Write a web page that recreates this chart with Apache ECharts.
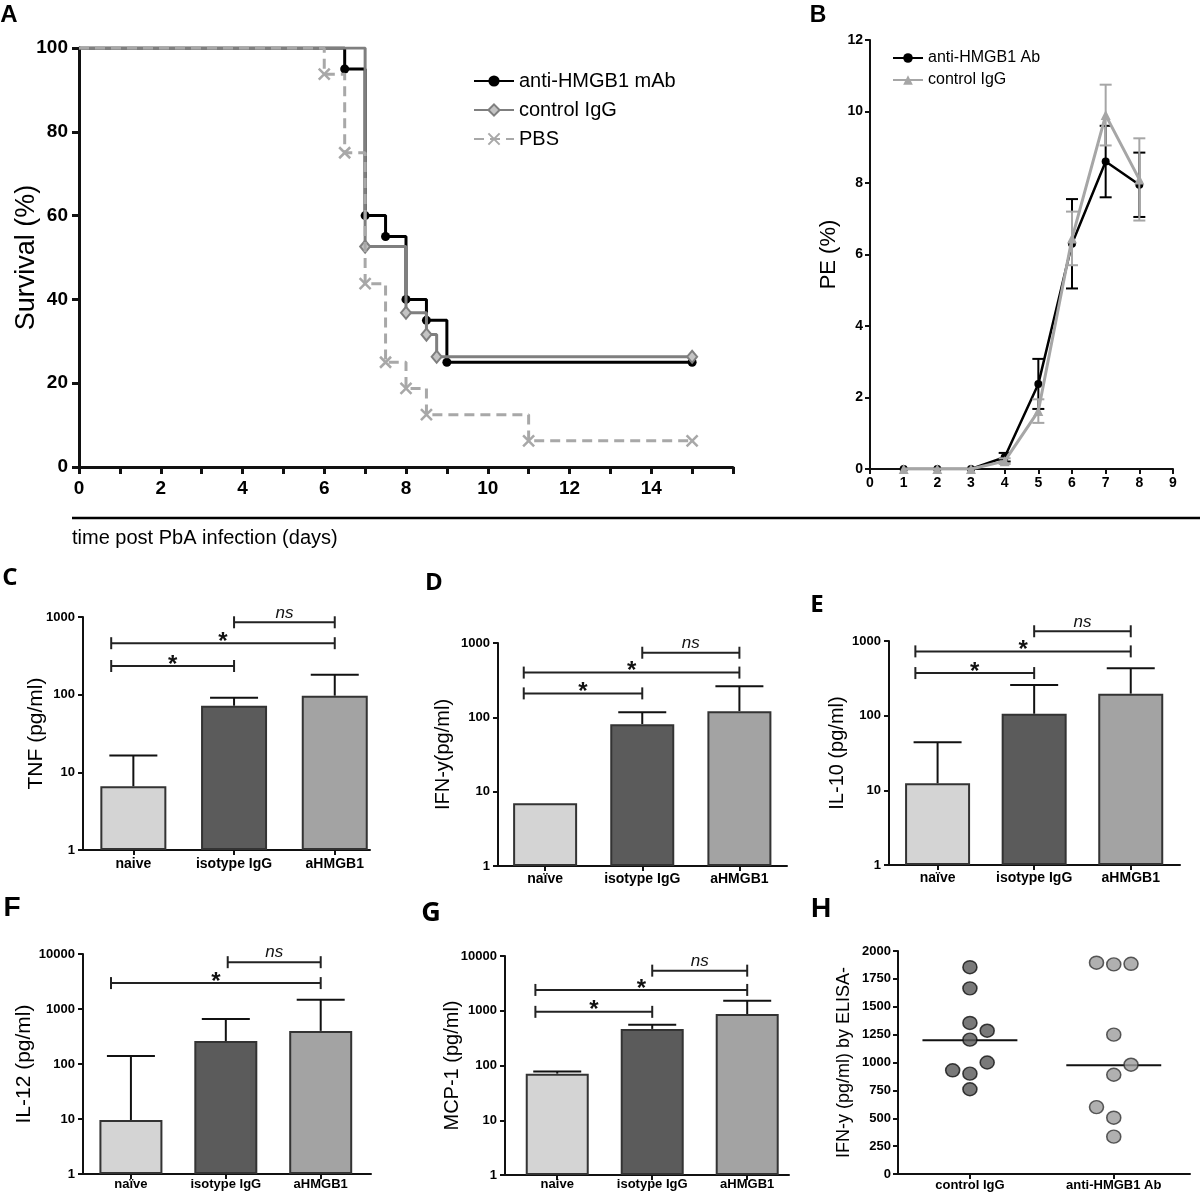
<!DOCTYPE html>
<html><head><meta charset="utf-8">
<script src="https://cdn.jsdelivr.net/npm/echarts@6/dist/echarts.min.js"></script>
<style>html,body{margin:0;padding:0;background:#fff}#c{width:1200px;height:1193px}</style>
</head><body><div id="c"></div><script>
// ---------- DATA ----------
// Panel A: Kaplan-Meier survival (day of event, % surviving)
const survDays_mAb = [0, 6.5, 7, 7.5, 8, 8.5, 9, 15];
const surv_mAb     = [100, 95, 60, 55, 40, 35, 25, 25];
const survDays_IgG = [0, 7, 8, 8.5, 8.75, 15];
const surv_IgG     = [100, 52.6, 36.8, 31.6, 26.3, 26.3];
const survDays_PBS = [0, 6, 6.5, 7, 7.5, 8, 8.5, 11, 15];
const surv_PBS     = [100, 93.75, 75, 43.75, 25, 18.75, 12.5, 6.25, 6.25];

// Panel B: parasitemia PE (%)
const peDays     = [1, 2, 3, 4, 5, 6, 7, 8];
const pe_Ab      = [0, 0, 0, 0.33, 2.38, 6.3, 8.6, 7.95];
const pe_Ab_err  = [0, 0, 0, 0.12, 0.7, 1.25, 1.0, 0.9];
const pe_IgG     = [0, 0, 0, 0.22, 1.62, 6.45, 9.9, 8.1];
const pe_IgG_err = [0, 0, 0, 0.08, 0.33, 0.75, 0.85, 1.15];

// Panels C-G: cytokines (mean, SD) for naive / isotype IgG / aHMGB1
const groupsPlain = ['naive', 'isotype IgG', 'aHMGB1'];
const groupsUml   = ['naïve', 'isotype IgG', 'aHMGB1'];
const tnf_mean  = [6.6, 72, 97];     const tnf_sd  = [9.9, 19, 83];
const ifn_mean  = [7.0, 81, 121];    const ifn_sd  = [0, 36, 141];
const il10_mean = [12.4, 106, 197];  const il10_sd = [31.6, 151, 236];
const il12_mean = [9.6, 262, 400];   const il12_sd = [130, 398, 1080];
const mcp1_mean = [71, 466, 870];    const mcp1_sd = [7, 90, 650];
// significance brackets: [from (category units), to, y value, label]
const tnf_sig  = [[-0.22, 1, 234, '*'], [-0.22, 2, 460, '*'], [1, 2, 855, 'ns']];
const ifn_sig  = [[-0.22, 1, 210, '*'], [-0.22, 2, 400, '*'], [1, 2, 740, 'ns']];
const il10_sig = [[-0.23, 1, 372, '*'], [-0.23, 2, 726, '*'], [1, 2, 1350, 'ns']];
const il12_sig = [[-0.21, 2, 2960, '*'], [1.02, 2, 7100, 'ns']];
const mcp1_sig = [[-0.23, 1, 955, '*'], [-0.23, 2, 2400, '*'], [1, 2, 5400, 'ns']];

// Panel H: IFN-y by ELISA, individual mice
const elisaGroups   = ['control IgG', 'anti-HMGB1 Ab'];
const elisa_ctrl     = [1855, 1665, 1355, 1285, 1205, 1000, 930, 900, 760];
const elisa_ctrl_jit = [0, 0, 0, 0.12, 0, 0.12, -0.12, 0, 0];
const elisa_anti     = [1895, 1880, 1885, 1250, 980, 890, 600, 505, 335];
const elisa_anti_jit = [-0.12, 0, 0.12, 0, 0.12, 0, -0.12, 0, 0];
const elisa_median   = [1200, 975];

// ---------- CHART ----------
const FONT = 'Liberation Sans, Arial, Helvetica, sans-serif';
const chart = echarts.init(document.getElementById('c'), null, {width: 1200, height: 1193});

const grids = [
  {left: 79, top: 48, width: 654, height: 419},
  {left: 870, top: 40, width: 303, height: 429},
  {left: 83, top: 617, width: 287, height: 233},
  {left: 498, top: 643, width: 289, height: 223},
  {left: 889, top: 641, width: 291, height: 224},
  {left: 83, top: 954, width: 288, height: 220},
  {left: 505, top: 956, width: 284, height: 219},
  {left: 898, top: 951, width: 292, height: 223}
].map(g => Object.assign({outerBoundsMode: 'none', containLabel: false}, g));

function axisBase(width, tickLen) {
  return {
    axisLine: {show: true, onZero: false, lineStyle: {color: '#111', width: width}},
    axisTick: {show: true, length: tickLen, lineStyle: {color: '#111', width: width}},
    splitLine: {show: false}
  };
}
function lbl(size, margin) {
  return {fontSize: size, fontWeight: 'bold', color: '#000', fontFamily: FONT, margin: margin, formatter: v => String(v)};
}
function yName(name, gap, size) {
  return {name: name, nameLocation: 'middle', nameGap: gap, nameRotate: 90, nameMoveOverlap: false,
    nameTextStyle: {fontSize: size, fontFamily: FONT, color: '#000'}};
}

const xAxes = [], yAxes = [];
// A
xAxes.push(Object.assign(axisBase(3, 7), {type: 'value', gridIndex: 0, min: 0, max: 16, interval: 1,
  axisLabel: Object.assign(lbl(19, 12), {formatter: v => (v % 2 === 0 && v <= 14) ? String(v) : ''})}));
yAxes.push(Object.assign(axisBase(3, 7), yName('Survival (%)', 39, 27), {type: 'value', gridIndex: 0, min: 0, max: 100, interval: 20,
  axisLabel: lbl(19, 11)}));
// B
xAxes.push(Object.assign(axisBase(2, 5), {type: 'value', gridIndex: 1, min: 0, max: 9, interval: 1, axisLabel: lbl(14, 7)}));
yAxes.push(Object.assign(axisBase(2, 5), yName('PE (%)', 30, 22), {type: 'value', gridIndex: 1, min: 0, max: 12, interval: 2, axisLabel: lbl(14, 7)}));

// bar panels
const barPanels = [
  {g: 2, min: -0.5, max: 2.35, ymax: 1000, name: 'TNF (pg/ml)', gap: 36, fs: 21, labels: groupsPlain, mean: tnf_mean, sd: tnf_sd, sig: tnf_sig, bw: 66, lm: 7},
  {g: 3, min: -0.485, max: 2.49, ymax: 1000, name: 'IFN-y(pg/ml)', gap: 45, fs: 20, labels: groupsUml, mean: ifn_mean, sd: ifn_sd, sig: ifn_sig, bw: 64, lm: 6},
  {g: 4, min: -0.503, max: 2.51, ymax: 1000, name: 'IL-10 (pg/ml)', gap: 42, fs: 20, labels: groupsUml, mean: il10_mean, sd: il10_sd, sig: il10_sig, bw: 65, lm: 6},
  {g: 5, min: -0.505, max: 2.53, ymax: 10000, name: 'IL-12 (pg/ml)', gap: 48, fs: 21, labels: groupsUml, mean: il12_mean, sd: il12_sd, sig: il12_sig, bw: 63, lm: 4},
  {g: 6, min: -0.55, max: 2.44, ymax: 10000, name: 'MCP-1 (pg/ml)', gap: 43, fs: 20, labels: groupsPlain, mean: mcp1_mean, sd: mcp1_sd, sig: mcp1_sig, bw: 63, lm: 3}
];
barPanels.forEach(p => {
  xAxes.push(Object.assign(axisBase(2, 5), {type: 'value', gridIndex: p.g, min: p.min, max: p.max,
    axisTick: {show: true, length: 5, customValues: [0, 1, 2], lineStyle: {color: '#111', width: 2}},
    axisLabel: Object.assign(lbl(p.lm < 5 ? 13 : 14, p.lm), {customValues: [0, 1, 2], formatter: v => p.labels[Math.round(v)]})}));
  yAxes.push(Object.assign(axisBase(2, 5), yName(p.name, p.gap, p.fs), {type: 'log', logBase: 10, gridIndex: p.g, min: 1, max: p.ymax,
    minorTick: {show: false}, axisLabel: lbl(13, 8)}));
});
// H
xAxes.push(Object.assign(axisBase(2, 5), {type: 'value', gridIndex: 7, min: -0.5, max: 1.53,
  axisTick: {show: true, length: 5, customValues: [0, 1], lineStyle: {color: '#111', width: 2}},
  axisLabel: Object.assign(lbl(13, 5), {customValues: [0, 1], formatter: v => elisaGroups[Math.round(v)]})}));
yAxes.push(Object.assign(axisBase(2, 5), yName('IFN-y (pg/ml) by ELISA-', 45, 18), {type: 'value', gridIndex: 7, min: 0, max: 2000, interval: 250,
  axisLabel: lbl(13, 7)}));

// ---------- SERIES ----------
const series = [];
function survData(days, vals) {
  return days.map((d, i) => i === 0 ? {value: [d, vals[i]], symbol: 'none'} : [d, vals[i]]);
}
series.push({name: 'anti-HMGB1 mAb', type: 'line', xAxisIndex: 0, yAxisIndex: 0, step: 'end', data: survData(survDays_mAb, surv_mAb),
  symbol: 'circle', symbolSize: 9, lineStyle: {color: '#000', width: 3}, itemStyle: {color: '#000'}, z: 2});
series.push({name: 'control IgG', type: 'line', xAxisIndex: 0, yAxisIndex: 0, step: 'end', data: survData(survDays_IgG, surv_IgG),
  symbol: 'diamond', symbolSize: [10, 12], lineStyle: {color: '#7f7f7f', width: 3}, itemStyle: {color: '#c4c4c4', borderColor: '#7f7f7f', borderWidth: 2}, z: 3});
series.push({name: 'PBS', type: 'line', xAxisIndex: 0, yAxisIndex: 0, step: 'end', data: survData(survDays_PBS, surv_PBS),
  symbol: 'path://M0,0L10,10M10,0L0,10', symbolSize: 11, lineStyle: {color: '#a8a8a8', width: 3, type: [10, 6]},
  itemStyle: {color: '#a8a8a8', borderColor: '#a8a8a8', borderWidth: 2.5}, z: 4});

function errBoth(color) {
  return function (params, api) {
    const x = api.value(0), m = api.value(1), e = api.value(2);
    if (!(e > 0)) return;
    const lo = api.coord([x, m - e]), hi = api.coord([x, m + e]);
    const st = {stroke: color, lineWidth: 2};
    return {type: 'group', children: [
      {type: 'line', shape: {x1: lo[0], y1: lo[1], x2: hi[0], y2: hi[1]}, style: st},
      {type: 'line', shape: {x1: lo[0] - 6, y1: lo[1], x2: lo[0] + 6, y2: lo[1]}, style: st},
      {type: 'line', shape: {x1: hi[0] - 6, y1: hi[1], x2: hi[0] + 6, y2: hi[1]}, style: st}
    ]};
  };
}
series.push({name: 'anti-HMGB1 Ab', type: 'line', xAxisIndex: 1, yAxisIndex: 1, data: peDays.map((d, i) => [d, pe_Ab[i]]),
  symbol: 'circle', symbolSize: 8, lineStyle: {color: '#000', width: 2.5}, itemStyle: {color: '#000'}, z: 2});
series.push({type: 'custom', xAxisIndex: 1, yAxisIndex: 1, data: peDays.map((d, i) => [d, pe_Ab[i], pe_Ab_err[i]]),
  encode: {x: 0, y: 1}, renderItem: errBoth('#000'), z: 2});
series.push({name: 'control IgG ', type: 'line', xAxisIndex: 1, yAxisIndex: 1, data: peDays.map((d, i) => [d, pe_IgG[i]]),
  symbol: 'triangle', symbolSize: 10, lineStyle: {color: '#a6a6a6', width: 3}, itemStyle: {color: '#a6a6a6'}, z: 3});
series.push({type: 'custom', xAxisIndex: 1, yAxisIndex: 1, data: peDays.map((d, i) => [d, pe_IgG[i], pe_IgG_err[i]]),
  encode: {x: 0, y: 1}, renderItem: errBoth('#a6a6a6'), z: 3});

function errUp(params, api) {
  const x = api.value(0), m = api.value(1), u = api.value(2);
  if (!(u > m)) return;
  const p0 = api.coord([x, m]), p1 = api.coord([x, u]);
  const st = {stroke: '#111', lineWidth: 2};
  return {type: 'group', children: [
    {type: 'line', shape: {x1: p0[0], y1: p0[1], x2: p1[0], y2: p1[1]}, style: st},
    {type: 'line', shape: {x1: p1[0] - 24, y1: p1[1], x2: p1[0] + 24, y2: p1[1]}, style: st}
  ]};
}
function bracketRender(list) {
  return function (params, api) {
    const b = list[params.dataIndex];
    const y = api.value(2);
    const p1 = api.coord([api.value(0), y]);
    const p2 = api.coord([api.value(1), y]);
    const star = b[3] === '*';
    const st = {stroke: '#222', lineWidth: 2};
    return {type: 'group', children: [
      {type: 'line', shape: {x1: p1[0], y1: p1[1], x2: p2[0], y2: p2[1]}, style: st},
      {type: 'line', shape: {x1: p1[0], y1: p1[1] - 6, x2: p1[0], y2: p1[1] + 6}, style: st},
      {type: 'line', shape: {x1: p2[0], y1: p2[1] - 6, x2: p2[0], y2: p2[1] + 6}, style: st},
      {type: 'text', x: (p1[0] + p2[0]) / 2, y: p1[1] - 1,
        style: {text: b[3], fill: '#111', font: star ? 'bold 24px ' + FONT : 'italic 17px ' + FONT,
          align: 'center', verticalAlign: star ? 'middle' : 'bottom'}}
    ]};
  };
}
const barColors = ['#d4d4d4', '#5b5b5b', '#a3a3a3'];
barPanels.forEach(p => {
  series.push({type: 'custom', xAxisIndex: p.g, yAxisIndex: p.g, data: p.mean.map((m, i) => [i, m, m + p.sd[i]]),
    encode: {x: 0, y: [1, 2]}, renderItem: errUp, z: 1});
  series.push({type: 'bar', xAxisIndex: p.g, yAxisIndex: p.g, barWidth: p.bw,
    data: p.mean.map((m, i) => ({value: [i, m], itemStyle: {color: barColors[i]}})),
    itemStyle: {borderColor: '#333', borderWidth: 2}, z: 2});
  series.push({type: 'custom', xAxisIndex: p.g, yAxisIndex: p.g, data: p.sig.map(b => [b[0], b[1], b[2]]),
    encode: {x: [0, 1], y: 2}, renderItem: bracketRender(p.sig), z: 3});
});

// H
series.push({type: 'custom', xAxisIndex: 7, yAxisIndex: 7, data: elisa_median.map((m, i) => [i, m]), encode: {x: 0, y: 1},
  renderItem: function (params, api) {
    const x = api.value(0), y = api.value(1);
    const a = api.coord([x - 0.33, y]), b = api.coord([x + 0.33, y]);
    return {type: 'line', shape: {x1: a[0], y1: a[1], x2: b[0], y2: b[1]}, style: {stroke: '#111', lineWidth: 2}};
  }, z: 1});
series.push({type: 'scatter', xAxisIndex: 7, yAxisIndex: 7, data: elisa_ctrl.map((v, i) => [0 + elisa_ctrl_jit[i], v]),
  symbol: 'circle', symbolSize: [14, 13], itemStyle: {color: '#585858', borderColor: '#111', borderWidth: 1.5}, z: 2});
series.push({type: 'scatter', xAxisIndex: 7, yAxisIndex: 7, data: elisa_anti.map((v, i) => [1 + elisa_anti_jit[i], v]),
  symbol: 'circle', symbolSize: [14, 13], itemStyle: {color: '#9c9c9c', borderColor: '#333', borderWidth: 1.5}, z: 2});

// ---------- GRAPHIC ----------
function letter(t, x, y, font) {
  return {type: 'text', x: x, y: y, style: {text: t, font: font, fill: '#000', align: 'center', verticalAlign: 'middle'}};
}
const graphic = [
  letter('A', 9, 15, 'bold 24px ' + FONT),
  letter('B', 818, 16, 'bold 23px ' + FONT),
  letter('C', 10, 578, 'bold 24px Open Sans'),
  letter('D', 434, 583, 'bold 24px Open Sans'),
  letter('E', 817, 605, 'bold 24px Open Sans'),
  letter('F', 12, 908, 'bold 28px ' + FONT),
  letter('G', 431, 913, 'bold 27px Open Sans'),
  letter('H', 821, 909, 'bold 28px ' + FONT),
  {type: 'line', shape: {x1: 72, y1: 518, x2: 1200, y2: 518}, style: {stroke: '#000', lineWidth: 2.5}},
  {type: 'text', x: 72, y: 538, style: {text: 'time post PbA infection (days)', font: '20px ' + FONT, fill: '#000', align: 'left', verticalAlign: 'middle'}}
];

chart.setOption({
  animation: false,
  backgroundColor: '#fff',
  grid: grids,
  xAxis: xAxes,
  yAxis: yAxes,
  legend: [
    {data: ['anti-HMGB1 mAb', 'control IgG', 'PBS'], orient: 'vertical', left: 468, top: 66, itemWidth: 40, itemHeight: 14, itemGap: 9,
      selectedMode: false, textStyle: {fontSize: 20, fontFamily: FONT, color: '#000'}},
    {data: ['anti-HMGB1 Ab', 'control IgG '], orient: 'vertical', left: 887, top: 45, itemWidth: 30, itemHeight: 12, itemGap: 6,
      selectedMode: false, textStyle: {fontSize: 16, fontFamily: FONT, color: '#000'}}
  ],
  graphic: graphic,
  series: series
});
</script></body></html>
